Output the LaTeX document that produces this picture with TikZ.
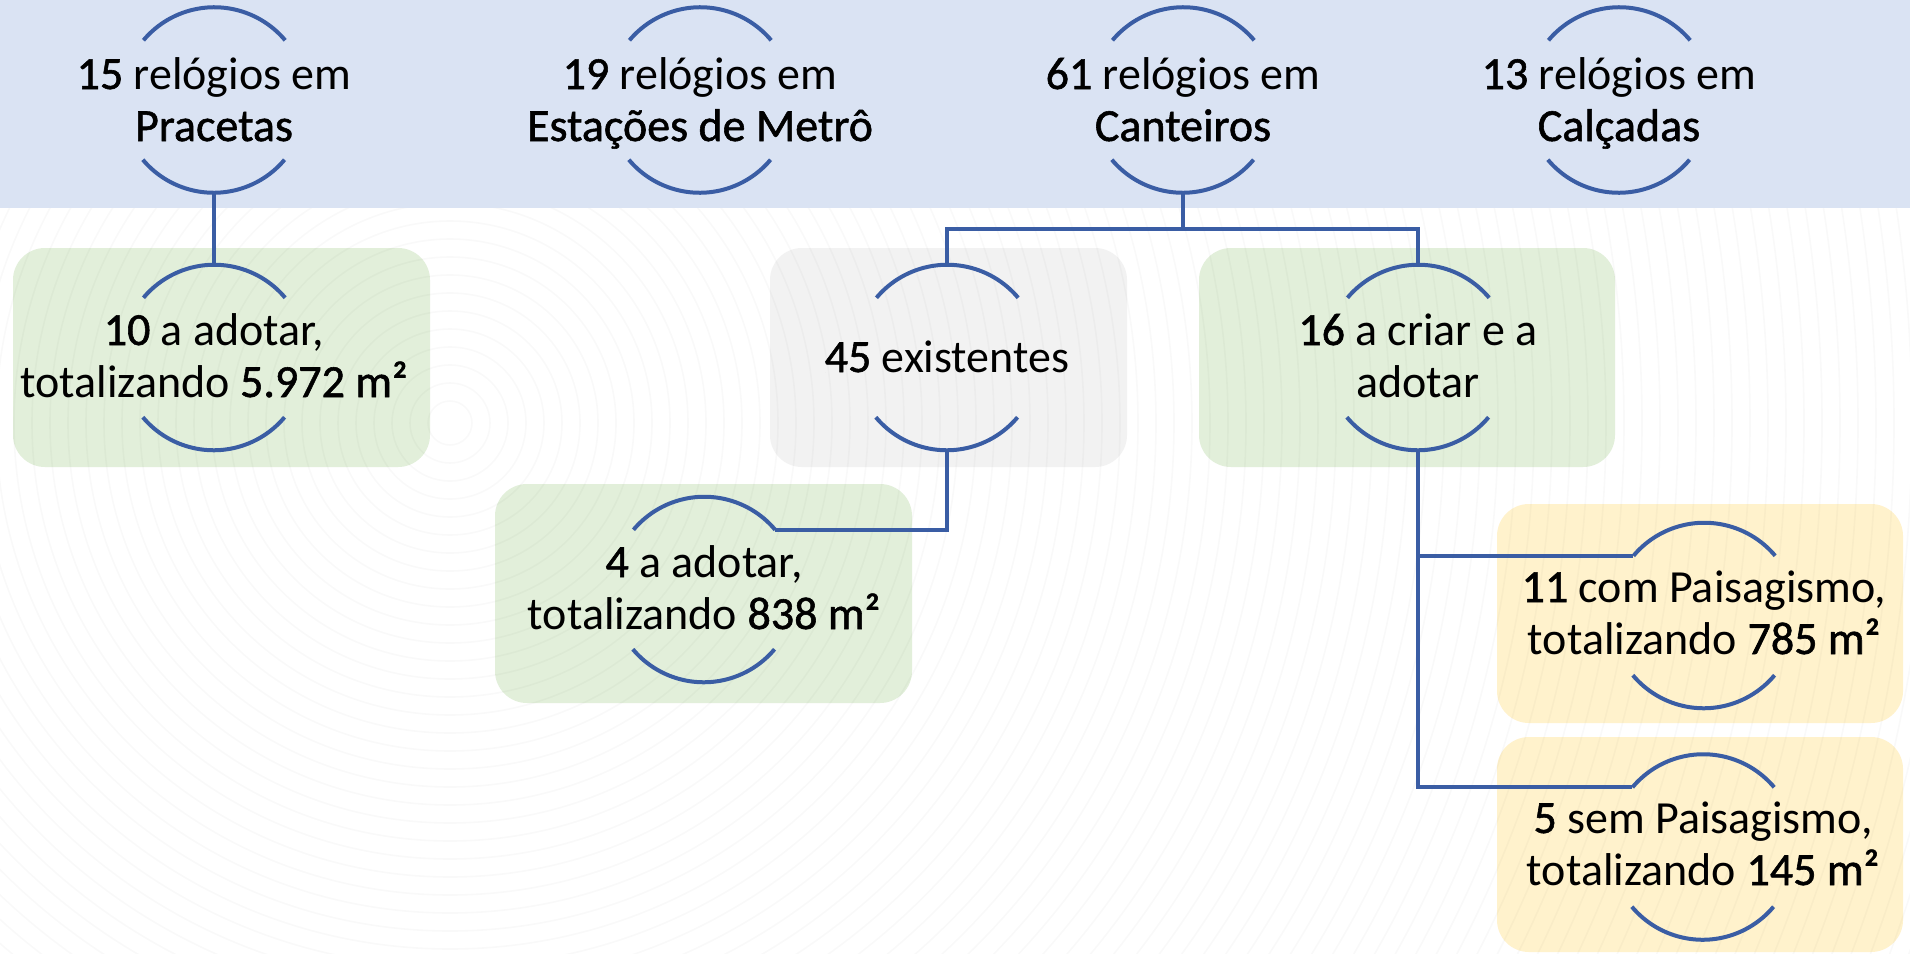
\documentclass[tikz,border=0pt]{standalone}
\usepackage{fontspec}
\setmainfont{Carlito}
\newfontfamily\numf{Carlito}[FakeBold=1.2]
\definecolor{band}{RGB}{218,227,243}
\definecolor{lineblue}{RGB}{58,93,164}
\definecolor{boxgreen}{RGB}{226,239,218}
\definecolor{boxgray}{RGB}{242,242,242}
\definecolor{boxyellow}{RGB}{255,242,204}
\newcommand{\nm}[1]{{\numf #1}}
\newcommand{\twol}[2]{\begin{tabular}[t]{@{}c@{}}#1\\#2\end{tabular}}
\newcommand{\ringarcs}[1]{%
  \draw[arcline] (#1.40) arc[start angle=40,end angle=140,radius=46.25pt];
  \draw[arcline] (#1.220) arc[start angle=220,end angle=320,radius=46.25pt];}
\tikzset{
  lbl/.style={inner sep=0pt, font=\fontsize{23}{26}\selectfont, anchor=base},
  ring/.style={circle, minimum size=92.5pt, inner sep=0pt},
  arcline/.style={draw=lineblue, line width=2pt},
  conn/.style={draw=lineblue, line width=2pt},
  rbox/.style={rounded corners=16pt},
  bgring/.style={draw=black, opacity=0.025, line width=0.8pt},
}
\begin{document}
\begin{tikzpicture}[x=0.5pt,y=-0.5pt]
\useasboundingbox (0,0) rectangle (1910,953);
\fill[white] (0,0) rectangle (1910,953);
% boxes
\fill[rbox, boxgreen] (13,248) rectangle (430,467);
\fill[rbox, boxgray] (770,248) rectangle (1127,467);
\fill[rbox, boxgreen] (1199,248) rectangle (1615,467);
\fill[rbox, boxgreen] (495,484) rectangle (912,703);
\fill[rbox, boxyellow] (1497,504) rectangle (1903,723);
\fill[rbox, boxyellow] (1497,737) rectangle (1903,952);
% background watermark rings
\begin{scope}
\clip (0,208) rectangle (1910,953);
\foreach \r in {22,40,...,1800} \draw[bgring] (450,423) circle[radius=\r*0.5pt];
\end{scope}
% top band
\fill[band] (0,0) rectangle (1910,208);
% rings
\node[ring] (rP) at (214,100) {};
\node[ring] (rE) at (700,100) {};
\node[ring] (rC) at (1183,100) {};
\node[ring] (rK) at (1619,100) {};
\node[ring] (r1) at (214,357.5) {};
\node[ring] (r45) at (947,357.5) {};
\node[ring] (r16) at (1418,357.5) {};
\node[ring] (r4) at (704,589.5) {};
\node[ring] (rA) at (1704,615.5) {};
\node[ring] (rB) at (1703,847) {};
\foreach \n in {rP,rE,rC,rK,r1,r45,r16,r4,rA,rB} {\ringarcs{\n}}
% connectors
\coordinate (jC) at (1183,229);
\draw[conn] (rP.south) -- (r1.north);
\draw[conn] (rC.south) -- (jC);
\draw[conn] (r45.north) -- (r45.north |- jC) -- (r16.north |- jC) -- (r16.north);
\draw[conn] (r45.south) |- (r4.40);
\draw[conn] (r16.south) |- (rB.140);
\draw[conn] (r16.south |- rA.140) -- (rA.140);
% labels
\node[lbl] (tP) at (214,89) {\twol{\nm{15} relógios em}{\nm{Pracetas}}};
\node[lbl] (tE) at (700,89) {\twol{\nm{19} relógios em}{\nm{Estações de Metrô}}};
\node[lbl] (tC) at (1183,89) {\twol{\nm{61} relógios em}{\nm{Canteiros}}};
\node[lbl] (tK) at (1619,89) {\twol{\nm{13} relógios em}{\nm{Calçadas}}};
\node[lbl] (t1) at (214,345) {\twol{\nm{10} a adotar,}{totalizando \nm{5.972 m²}}};
\node[lbl] (t45) at (947,372) {\nm{45} existentes};
\node[lbl] (t16) at (1418,345) {\twol{\nm{16} a criar e a}{adotar}};
\node[lbl] (t4) at (704,577) {\twol{\nm{4} a adotar,}{totalizando \nm{838 m²}}};
\node[lbl] (tA) at (1704,602) {\twol{\nm{11} com Paisagismo,}{totalizando \nm{785 m²}}};
\node[lbl] (tB) at (1703,833) {\twol{\nm{5} sem Paisagismo,}{totalizando \nm{145 m²}}};
\end{tikzpicture}
\end{document}
